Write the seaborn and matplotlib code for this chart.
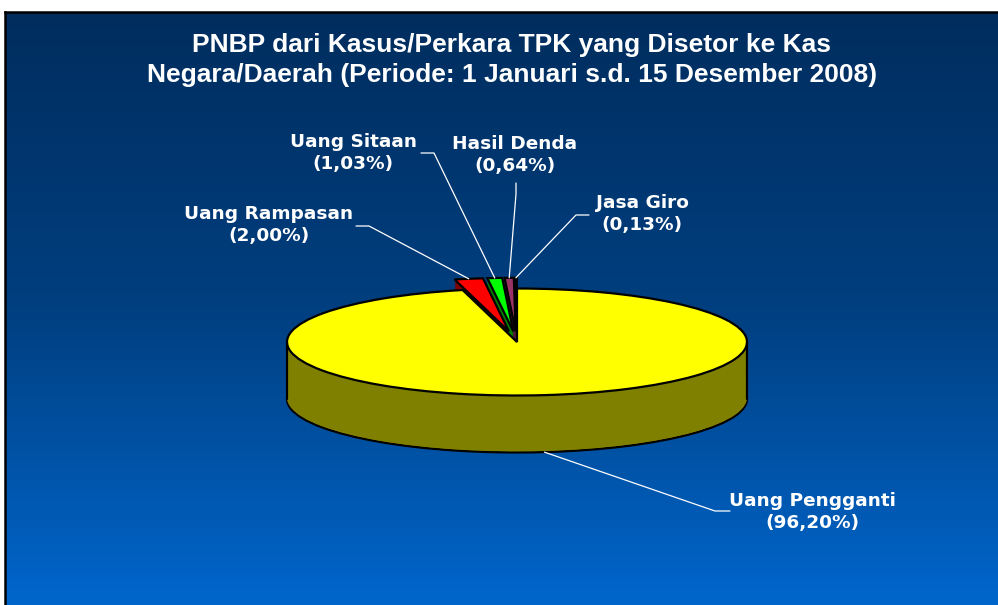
"""
PNBP dari Kasus/Perkara TPK - pie 3D (ditumpuk dari beberapa lapis pie)
"""
import numpy as np
import matplotlib.pyplot as plt
import seaborn as sns
from matplotlib import font_manager
from matplotlib.colors import LinearSegmentedColormap

sns.set_theme(style='white')

# data
categories = ['Uang Pengganti', 'Uang Rampasan', 'Uang Sitaan', 'Hasil Denda', 'Jasa Giro']
percentages = [96.20, 2.00, 1.03, 0.64, 0.13]
pct_labels = ['(96,20%)', '(2,00%)', '(1,03%)', '(0,64%)', '(0,13%)']
top_colors = ['#FFFF00', '#FF0000', '#00FF00', '#993366', '#0057AD']
side_colors = ['#808000', '#800000', '#008000', '#4C1A33', '#002B5A']
explode = [0, 0.2, 0.2, 0.2, 0.2]

title = 'PNBP dari Kasus/Perkara TPK yang Disetor ke Kas\nNegara/Daerah (Periode: 1 Januari s.d. 15 Desember 2008)'

# layout (pixel, origin kiri atas)
W, H = 998, 605
cx, cy = 517, 342          # pusat elips atas
rx, ry = 230, 53.5         # jari-jari elips
depth_px = 57
# posisi teks label dan titik siku garis penunjuk
label_pos = [(812, 512), (269, 225), (353, 153), (515, 155), (642, 214)]
leader_start = [(730, 511), (356, 226), (421, 153), (516, 183), (589, 215)]
leader_elbow = [(715, 511), (369, 226), (434, 153), (516, 194), (576, 215)]


def pick_font(names):
    avail = {f.name for f in font_manager.fontManager.ttflist}
    for n in names:
        if n in avail:
            return n
    return 'DejaVu Sans'


title_font = pick_font(['Liberation Sans Narrow', 'Liberation Sans', 'DejaVu Sans'])
label_font = 'DejaVu Sans'


def px2data(px, py):
    return (px - cx) / rx, (cy - py) / ry


fig = plt.figure(figsize=(W / 100, H / 100), dpi=100)
fig.patch.set_facecolor('white')

# latar gradasi biru
bg = fig.add_axes([5 / W, 0, 1 - 5 / W, (H - 12) / H])
grad = np.linspace(0, 1, 256).reshape(-1, 1)
cmap = LinearSegmentedColormap.from_list('bg', ['#002D5E', '#003F80', '#0066CC'])
bg.imshow(grad, aspect='auto', cmap=cmap, extent=[0, 1, 0, 1], origin='upper')
bg.set_xticks([])
bg.set_yticks([])
for side in ['right', 'bottom']:
    bg.spines[side].set_visible(False)
for side in ['left', 'top']:
    bg.spines[side].set_color('black')
    bg.spines[side].set_linewidth(1.8)

ax = fig.add_axes([0, 0, 1, 1])
ax.patch.set_alpha(0)

depth = depth_px / ry
n_layers = 45
offsets = np.linspace(depth, 0, n_layers, endpoint=False)
for k, off in enumerate(offsets):
    ax.pie(percentages, colors=side_colors, startangle=90, counterclock=False,
           explode=explode, center=(0, -off), radius=1,
           wedgeprops=dict(edgecolor='black' if k == 0 else 'none',
                           linewidth=1.6 if k == 0 else 0))

wedges, _ = ax.pie(percentages, colors=top_colors, startangle=90, counterclock=False,
                   explode=explode, center=(0, 0), radius=1,
                   wedgeprops=dict(edgecolor='black', linewidth=1.6))

# garis tepi samping silinder
ax.plot([-1, -1], [0, -depth], color='black', lw=1.6)
ax.plot([1, 1], [0, -depth], color='black', lw=1.6)

ax.set_aspect('auto')
ax.set_xlim(-cx / rx, (W - cx) / rx)
ax.set_ylim(-(H - cy) / ry, cy / ry)
ax.axis('off')

# label + garis penunjuk
for i, w in enumerate(wedges):
    mid = np.deg2rad((w.theta1 + w.theta2) / 2)
    ex, ey = w.center
    attach = (ex + np.cos(mid), ey + np.sin(mid))
    if i == 0:
        attach = (attach[0], attach[1] - depth)
    p0 = px2data(*leader_start[i])
    p1 = px2data(*leader_elbow[i])
    ax.plot([p0[0], p1[0], attach[0]], [p0[1], p1[1], attach[1]],
            color='white', lw=0.9)
    tx, ty = px2data(*label_pos[i])
    ax.text(tx, ty, f'{categories[i]}\n{pct_labels[i]}', color='white',
            ha='center', va='center', fontsize=13.3, fontweight='bold',
            family=label_font, linespacing=1.3)

fig.text(512 / W, 1 - 60 / H, title, color='white', ha='center', va='center',
         fontsize=19, fontweight='bold', family=title_font, linespacing=1.3)

fig.savefig('out.png', dpi=100)
